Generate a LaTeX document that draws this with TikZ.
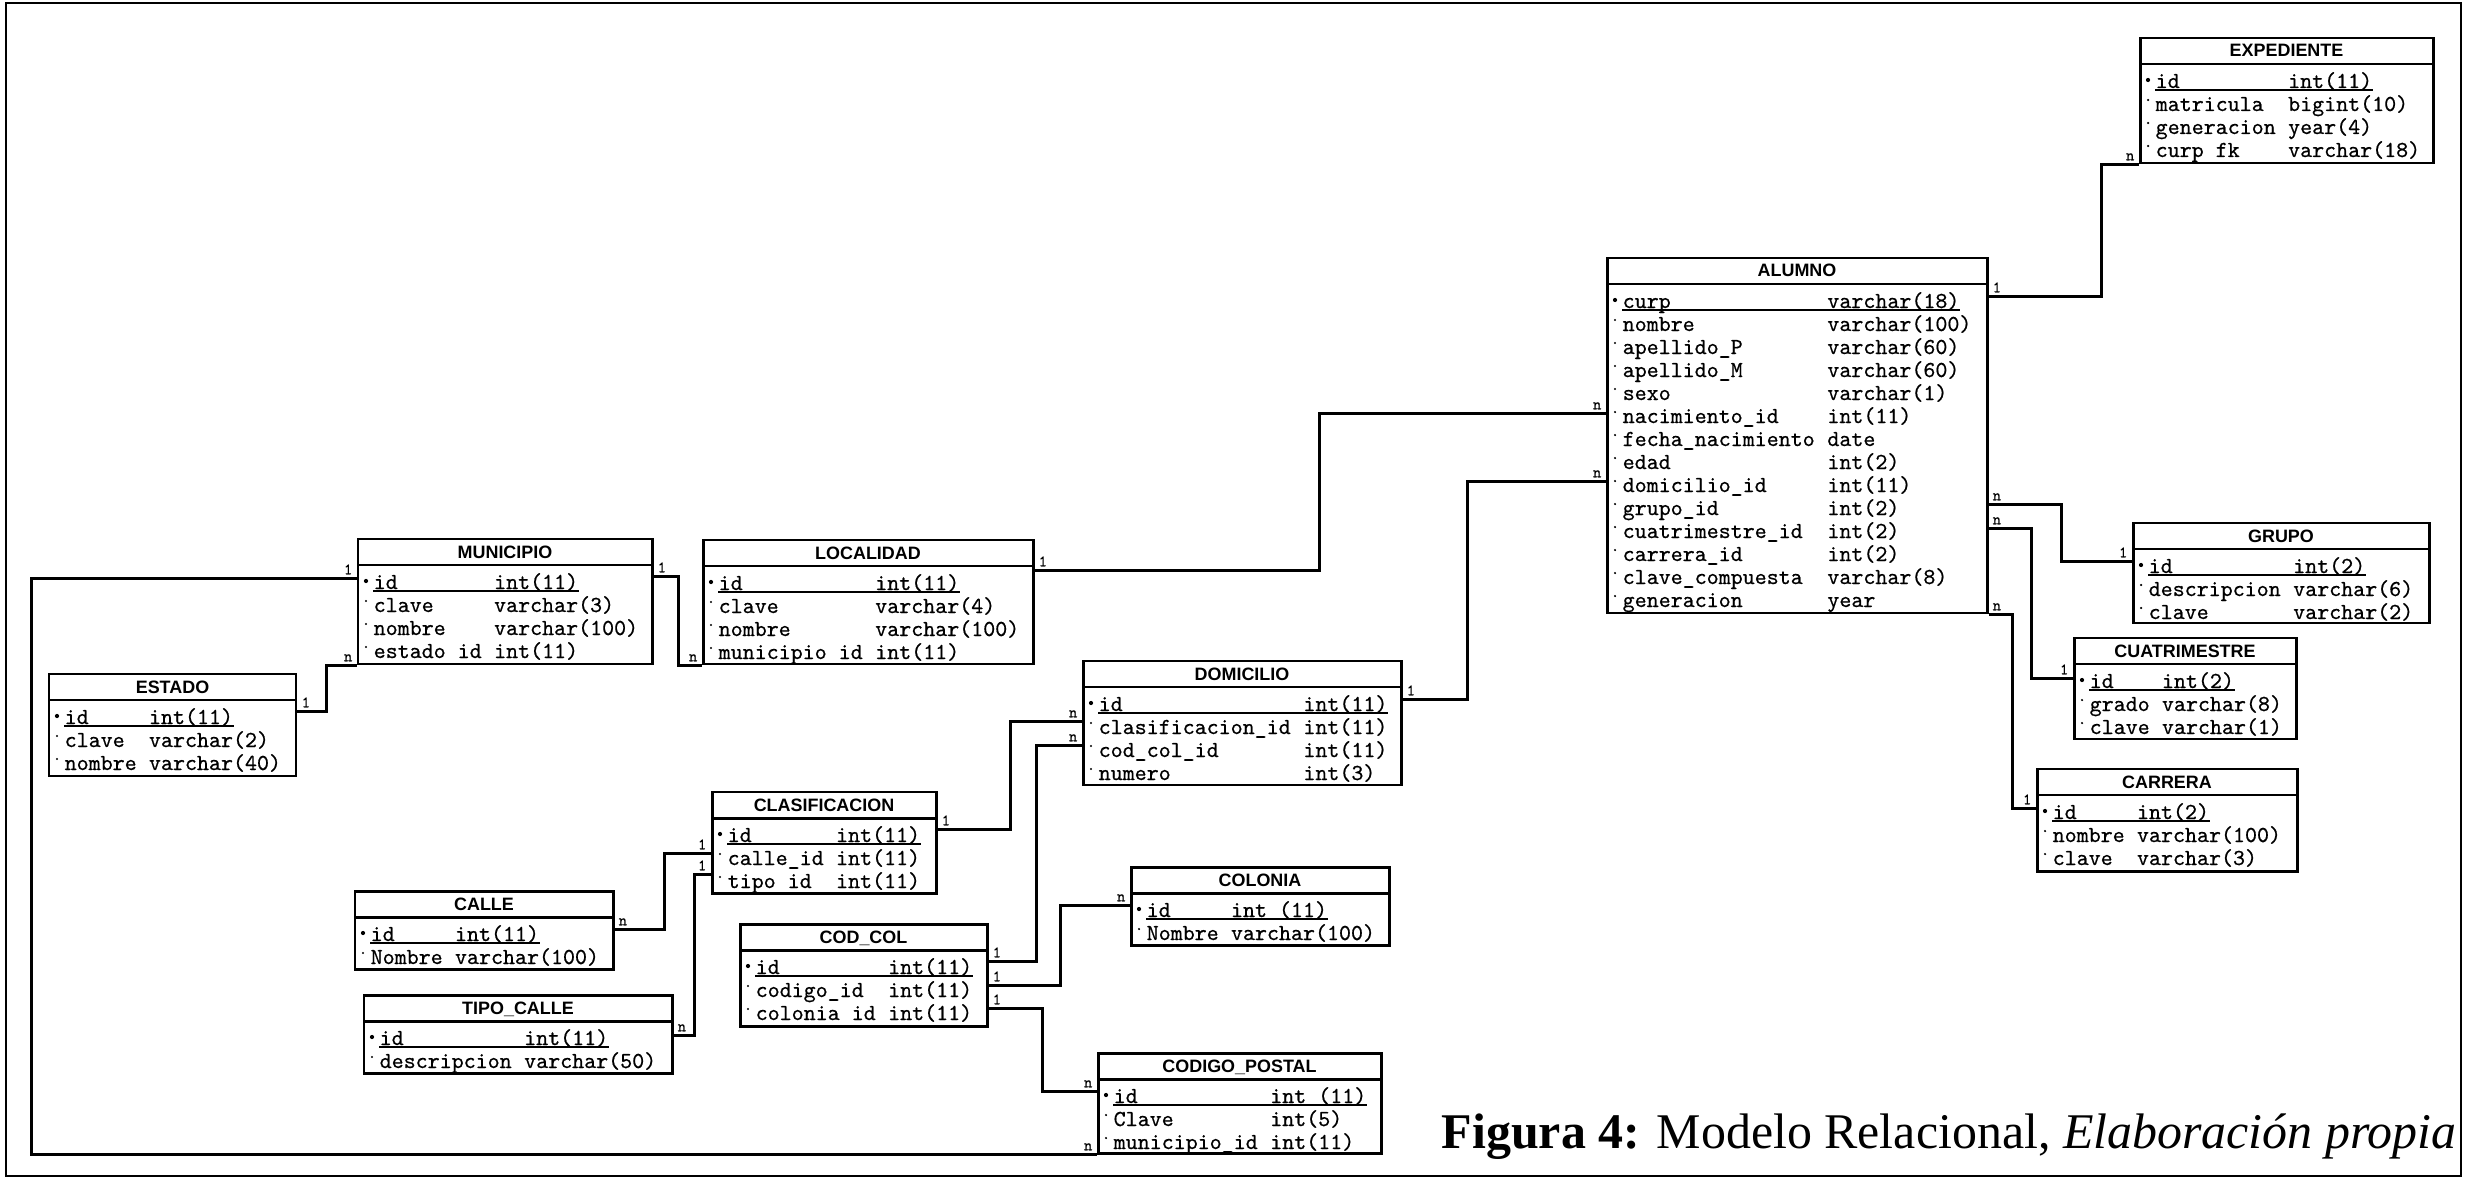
\documentclass[tikz,border=0pt]{standalone}
\usepackage{fontspec}
\setmainfont{Liberation Serif}
\newfontfamily\headfont{Liberation Sans}
\newfontfamily\fldfont{lmmono10-regular.otf}[FakeBold=0.6]
\usepackage{tikz}
\usetikzlibrary{positioning, fit, calc}

% table: name, left, top, right, bottom, title, type column (chars), rows
\newcommand{\erdtable}[8]{%
  \node[tbl, fit={(#2,#3) (#4,#5)}] (#1) {};
  \draw[tblrule] (#2,#3+26) -- (#4,#3+26);
  \node[head] (#1-title) at ({(#2+#4)/2},#3+19) {#6};
  \foreach \fname/\ftype [count=\i from 0] in {#8} {
    \node[fld] (#1-n\i) at (#2+15,#3+50+23*\i) {\fname};
    \node[fld] (#1-t\i) at (#2+15+12.04*#7,#3+50+23*\i) {\ftype};
    \ifnum\i=0
      \draw[pkline] ([yshift=-0.6pt]#1-n0.base west) -- ([yshift=-0.6pt]#1-t0.base east);
      \fill (#2+8,#3+42) circle[radius=0.6pt];
    \else
      \fill (#2+8,#3+39+23*\i) circle[radius=0.35pt];
    \fi
  }%
}

\begin{document}
\begin{tikzpicture}[x=0.01cm, y=-0.01cm,
    tbl/.style={draw, line width=0.85pt, inner sep=0pt},
    tblrule/.style={line width=0.85pt},
    head/.style={anchor=base, inner sep=0pt, font=\fontsize{5.1}{5.5}\headfont\bfseries},
    fld/.style={anchor=base west, inner sep=0pt, font=\fontsize{6.5}{7}\fldfont},
    pkline/.style={line width=0.4pt},
    card/.style={inner sep=0.8pt, font=\fontsize{4.5}{5}\fldfont},
    rel/.style={line width=0.8pt},
  ]
  \useasboundingbox (0,0) rectangle (2466,1179);
  \draw[line width=0.6pt] (6,3) rectangle (2461,1176);

  \erdtable{expediente}{2140}{38}{2433}{163}{EXPEDIENTE}{11}{id/int(11), matricula/bigint(10), generacion/year(4), curp fk/varchar(18)}
  \erdtable{alumno}{1607}{258}{1987}{613}{ALUMNO}{17}{curp/varchar(18), nombre/varchar(100), apellido\_P/varchar(60), apellido\_M/varchar(60), sexo/varchar(1), nacimiento\_id/int(11), fecha\_nacimiento/date, edad/int(2), domicilio\_id/int(11), grupo\_id/int(2), cuatrimestre\_id/int(2), carrera\_id/int(2), clave\_compuesta/varchar(8), generacion/year}
  \erdtable{grupo}{2133}{523}{2429}{623}{GRUPO}{12}{id/int(2), descripcion/varchar(6), clave/varchar(2)}
  \erdtable{cuatrimestre}{2074}{638}{2296}{739}{CUATRIMESTRE}{6}{id/int(2), grado/varchar(8), clave/varchar(1)}
  \erdtable{carrera}{2037}{769}{2297}{871}{CARRERA}{7}{id/int(2), nombre/varchar(100), clave/varchar(3)}
  \erdtable{municipio}{358}{539}{652}{664}{MUNICIPIO}{10}{id/int(11), clave/varchar(3), nombre/varchar(100), estado id/int(11)}
  \erdtable{localidad}{703}{540}{1033}{664}{LOCALIDAD}{13}{id/int(11), clave/varchar(4), nombre/varchar(100), municipio id/int(11)}
  \erdtable{estado}{49}{674}{296}{776}{ESTADO}{7}{id/int(11), clave/varchar(2), nombre/varchar(40)}
  \erdtable{domicilio}{1083}{661}{1401}{785}{DOMICILIO}{17}{id/int(11), clasificacion\_id/int(11), cod\_col\_id/int(11), numero/int(3)}
  \erdtable{clasificacion}{712}{792}{936}{893}{CLASIFICACION}{9}{id/int(11), calle\_id/int(11), tipo id/int(11)}
  \erdtable{calle}{355}{891}{613}{969}{CALLE}{7}{id/int(11), Nombre/varchar(100)}
  \erdtable{tipocalle}{364}{995}{672}{1073}{TIPO\_CALLE}{12}{id/int(11), descripcion/varchar(50)}
  \erdtable{codcol}{740}{924}{987}{1026}{COD\_COL}{11}{id/int(11), codigo\_id/int(11), colonia id/int(11)}
  \erdtable{colonia}{1131}{867}{1389}{945}{COLONIA}{7}{id/int (11), Nombre/varchar(100)}
  \erdtable{codpostal}{1098}{1053}{1381}{1153}{CODIGO\_POSTAL}{13}{id/int (11), Clave/int(5), municipio\_id/int(11)}

  \draw[rel] ($(alumno.north east)+(0,40)$) node[card, above right] {1} -- ++(113,0) |- (expediente.south west) node[card, above left] {n};
  \draw[rel] ($(localidad.north east)+(0,32)$) node[card, above right] {1} -- ++(285,0) |- ($(alumno.north west)+(0,157)$) node[card, above left] {n};
  \draw[rel] ($(domicilio.north east)+(0,40)$) node[card, above right] {1} -- ++(65,0) |- ($(alumno.north west)+(0,225)$) node[card, above left] {n};
  \draw[rel] ($(alumno.north east)+(0,248)$) node[card, above right] {n} -- ++(73,0) |- ($(grupo.north west)+(0,40)$) node[card, above left] {1};
  \draw[rel] ($(alumno.north east)+(0,272)$) node[card, above right] {n} -- ++(43,0) |- ($(cuatrimestre.north west)+(0,42)$) node[card, above left] {1};
  \draw[rel] (alumno.south east) node[card, above right] {n} -- ++(24,0) |- ($(carrera.north west)+(0,41)$) node[card, above left] {1};
  \draw[rel] ($(municipio.north east)+(0,39)$) node[card, above right] {1} -- ++(25,0) |- (localidad.south west) node[card, above left] {n};
  \draw[rel] (municipio.south west) node[card, above left] {n} -- ++(-30,0) |- ($(estado.north east)+(0,39)$) node[card, above right] {1};
  \draw[rel] ($(municipio.north west)+(0,41)$) node[card, above left] {1} -- ++(-325,0) |- (codpostal.south west) node[card, above left] {n};
  \draw[rel] ($(clasificacion.north east)+(0,39)$) node[card, above right] {1} -- ++(73,0) |- ($(domicilio.north west)+(0,62)$) node[card, above left] {n};
  \draw[rel] ($(codcol.north east)+(0,39)$) node[card, above right] {1} -- ++(48,0) |- ($(domicilio.north west)+(0,86)$) node[card, above left] {n};
  \draw[rel] ($(codcol.north east)+(0,63)$) node[card, above right] {1} -- ++(72,0) |- ($(colonia.north west)+(0,40)$) node[card, above left] {n};
  \draw[rel] ($(codcol.north east)+(0,86)$) node[card, above right] {1} -- ++(54,0) |- ($(codpostal.north west)+(0,40)$) node[card, above left] {n};
  \draw[rel] ($(calle.north east)+(0,40)$) node[card, above right] {n} -- ++(50,0) |- ($(clasificacion.north west)+(0,63)$) node[card, above left] {1};
  \draw[rel] ($(tipocalle.north east)+(0,42)$) node[card, above right] {n} -- ++(21,0) |- ($(clasificacion.north west)+(0,84)$) node[card, above left] {1};

  \node[anchor=base west, inner sep=0pt, font=\fontsize{14.2}{17}\selectfont] (caption) at (1441,1148)
    {\textbf{Figura 4:} Modelo Relacional, \textit{Elaboración propia}};
\end{tikzpicture}
\end{document}
